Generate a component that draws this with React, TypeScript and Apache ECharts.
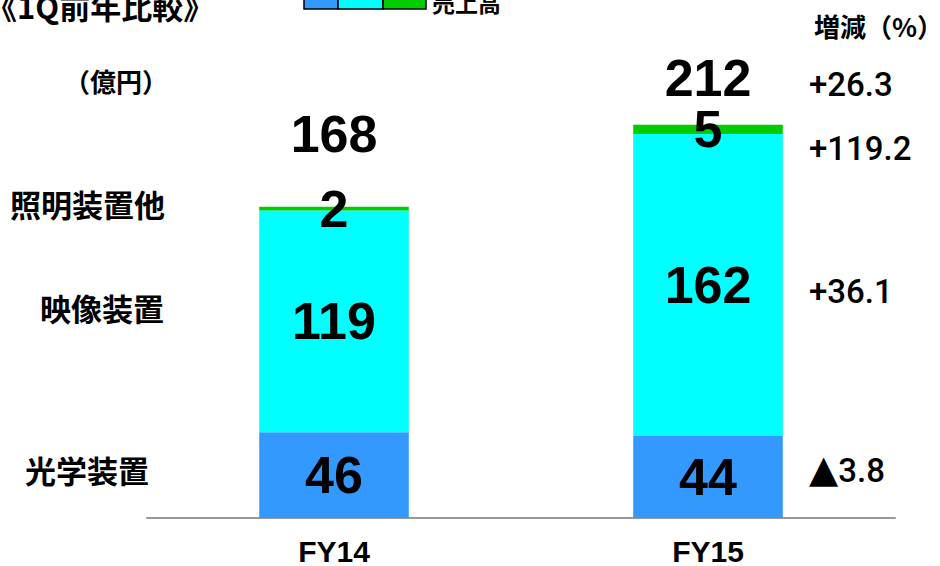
import React, { useEffect, useRef } from "react";
import * as echarts from "echarts";

const categories = ["FY14", "FY15"];
const optical = [46, 44];
const video = [119, 162];
const lighting = [2, 5];
const totals = [168, 212];
const totalOffsets = [-71, -45];
const segmentNames = ["照明装置他", "映像装置", "光学装置"];
const changeLabels = ["+26.3", "+119.2", "+36.1", "▲3.8"];
const legendColors = ["#3399ff", "#00ffff", "#00cc00"];

const NUM_FONT = "'Liberation Sans', Arial, sans-serif";
const CJK_FONT = "'Noto Sans CJK JP', sans-serif";

export default function App() {
  const ref = useRef<HTMLDivElement>(null);
  useEffect(() => {
    document.body.style.margin = "0";
    if (!ref.current) return;
    const chart = echarts.init(ref.current, undefined, { renderer: "svg" });
    const segLabel = {
      show: true,
      position: "inside",
      color: "#000",
      fontSize: 52,
      fontWeight: "bold",
      fontFamily: NUM_FONT,
      textBorderWidth: 0,
    };
    const leftY = [203, 307, 469];
    const leftX = [10, 40, 25];
    const rightY = [84, 148, 291, 470];
    const graphic: any[] = [
      {
        type: "text",
        left: -14,
        top: -10,
        style: { text: "《1Q前年比較》", font: `bold 31px ${CJK_FONT}`, fill: "#000" },
      },
      ...legendColors.map((c, i) => ({
        type: "rect",
        shape: { x: [304, 338, 383][i], y: -20, width: [34, 45, 43][i], height: 29 },
        style: { fill: c, stroke: "#000", lineWidth: 1.5 },
      })),
      {
        type: "text",
        x: 432,
        y: 2,
        style: { text: "売上高", font: `bold 23px ${CJK_FONT}`, fill: "#000", verticalAlign: "middle" },
      },
      {
        type: "text",
        x: 64,
        y: 80,
        style: { text: "（億円）", font: `bold 26px ${CJK_FONT}`, fill: "#000", verticalAlign: "middle" },
      },
      {
        type: "text",
        x: 814,
        y: 25,
        style: { text: "増減（%）", font: `bold 26px ${CJK_FONT}`, fill: "#000", verticalAlign: "middle" },
      },
      ...segmentNames.map((n, i) => ({
        type: "text",
        x: leftX[i],
        y: leftY[i],
        style: { text: n, font: `bold 31px ${CJK_FONT}`, fill: "#000", verticalAlign: "middle" },
      })),
      ...changeLabels.map((t, i) => {
        const tri = t.startsWith("▲");
        return {
          type: "text",
          x: 809,
          y: rightY[i],
          style: {
            text: tri ? `{t|▲}${t.slice(1)}` : t,
            font: `500 33px Roboto, ${NUM_FONT}`,
            fill: "#000",
            verticalAlign: "middle",
            rich: {
              t: { fontSize: 38, fontFamily: "'DejaVu Sans', sans-serif", fill: "#000", padding: [0, 0, 3, 0] },
            },
          },
        };
      }),
    ];
    chart.setOption({
      animation: false,
      grid: { left: 147, right: 45, top: 52, bottom: 45 },
      xAxis: {
        type: "category",
        data: categories,
        axisLine: { lineStyle: { color: "#999", width: 2 } },
        axisTick: { show: false },
        axisLabel: {
          color: "#000",
          fontSize: 30,
          fontWeight: "bold",
          fontFamily: NUM_FONT,
          margin: 18,
        },
      },
      yAxis: { type: "value", min: 0, max: 250, show: false, splitLine: { show: false } },
      series: [
        {
          name: "光学装置",
          type: "bar",
          stack: "s",
          barWidth: "40%",
          data: optical,
          itemStyle: { color: legendColors[0] },
          label: segLabel,
        },
        {
          name: "映像装置",
          type: "bar",
          stack: "s",
          data: video,
          itemStyle: { color: legendColors[1] },
          label: segLabel,
        },
        {
          name: "照明装置他",
          type: "bar",
          stack: "s",
          data: lighting,
          itemStyle: { color: legendColors[2] },
          label: segLabel,
        },
        {
          name: "売上高",
          type: "scatter",
          symbolSize: 1,
          itemStyle: { color: "rgba(0,0,0,0)", opacity: 1 },
          data: totals.map((v, i) => ({
            value: v,
            label: { ...segLabel, offset: [0, totalOffsets[i]] },
          })),
          label: segLabel,
          z: 5,
        },
      ],
      graphic,
    });
    return () => chart.dispose();
  }, []);
  return <div ref={ref} style={{ width: 940, height: 566 }} />;
}
